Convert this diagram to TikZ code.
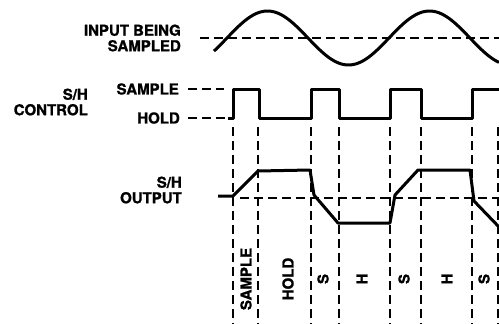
\documentclass[tikz,border=0pt]{standalone}
\usepackage{fontspec}
\setmainfont{TeX Gyre Heros}[BoldFeatures={FakeBold=1.2}]
\usepackage{tikz}
\usetikzlibrary{calc}

\begin{document}
\begin{tikzpicture}[x=1pt,y=-1pt,
  trace/.style={line width=3pt,line join=round},
  guide/.style={line width=2pt,dash pattern=on 9pt off 5pt},
  lbl/.style={font=\fontsize{15}{15.5}\selectfont\bfseries,align=right,inner sep=0pt}]
  \useasboundingbox (0,0) rectangle (499,324);
  % input being sampled
  \node[lbl,anchor=east] (inlbl) at (181,38) {INPUT BEING\\SAMPLED};
  \draw[guide] (200,38) -- (499,38);
  \draw[trace] plot[domain=214:499,samples=120,smooth] (\x,{38-27*sin((\x-227)/162*360)});
  % s/h control
  \node[lbl,anchor=east] (ctllbl) at (88,102) {S/H\\CONTROL};
  \node[lbl,anchor=east] (smp) at (179,89) {SAMPLE};
  \node[lbl,anchor=east] (hld) at (180,118) {HOLD};
  \draw[guide] (188,89) -- (224,89);
  \draw[guide] (188,118) -- (228,118);
  \draw[trace] (228,118) -- (233,118) -- (233,89) -- (259,89) -- (259,118)
    -- (311,118) -- (311,89) -- (339,89) -- (339,118) -- (390,118) -- (390,89)
    -- (421,89) -- (421,118) -- (472,118) -- (472,89) -- (499,89);
  \foreach \x in {233,258,311,339,390,421,472,498}
    \draw[guide] (\x,127) -- (\x,324);
  % s/h output
  \node[lbl,anchor=east] (outlbl) at (182,190) {S/H\\OUTPUT};
  \draw[guide] (240,198) -- (499,198);
  \draw[trace] (218,196) -- (233,196) -- (258,171) -- (310,170) -- (314,195)
    -- (338,223) -- (390,223) -- (395,195) -- (418,170) -- (470,170)
    -- (474,201) -- (499,227);
  % phase labels
  \foreach \x/\t [count=\i] in {246/SAMPLE,288/HOLD,323/S,362/H,404/S,447/H,484/S}
    \node[lbl,rotate=90] (ph\i) at (\x,279) {\t};
\end{tikzpicture}
\end{document}
